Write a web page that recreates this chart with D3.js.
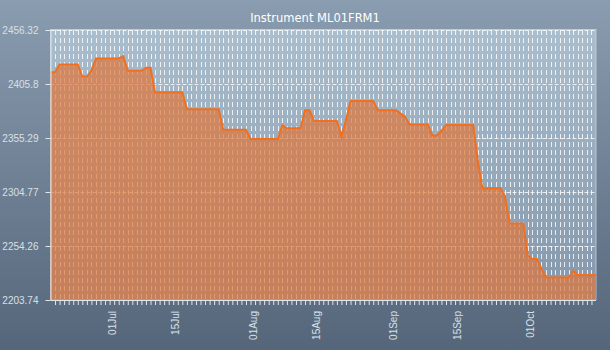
<!DOCTYPE html>
<html>
<head>
<meta charset="utf-8">
<script src="https://cdn.jsdelivr.net/npm/d3@7"></script>
<style>
  html, body { margin: 0; padding: 0; background: #6f8296; }
  svg { display: block; }
</style>
</head>
<body>
<svg id="chart" width="610" height="350"></svg>
<script>
// ---- data ----
const title = "Instrument ML01FRM1";
const dates = [
  "2009-06-17","2009-06-18","2009-06-19","2009-06-23","2009-06-24","2009-06-25","2009-06-26","2009-06-27",
  "2009-07-02","2009-07-03","2009-07-04","2009-07-07","2009-07-08","2009-07-09","2009-07-10","2009-07-16",
  "2009-07-17","2009-07-24","2009-07-25","2009-07-30","2009-07-31","2009-08-06","2009-08-07","2009-08-08",
  "2009-08-11","2009-08-12","2009-08-13","2009-08-14","2009-08-19","2009-08-20","2009-08-21","2009-08-22",
  "2009-08-27","2009-08-28","2009-09-01","2009-09-02","2009-09-03","2009-09-04","2009-09-08","2009-09-09",
  "2009-09-10","2009-09-11","2009-09-12","2009-09-18","2009-09-19","2009-09-20","2009-09-24","2009-09-25",
  "2009-09-26","2009-09-29","2009-09-30","2009-10-01","2009-10-02","2009-10-03","2009-10-04","2009-10-09",
  "2009-10-10","2009-10-11","2009-10-15"
];
const values = [
  2416.9, 2416.9, 2424.1, 2424.1, 2412.8, 2412.8, 2418.3, 2429.7,
  2429.7, 2431.9, 2418.1, 2418.1, 2420.9, 2420.9, 2398.1, 2398.1,
  2382.2, 2382.2, 2363.1, 2363.1, 2354.4, 2354.4, 2367.1, 2364.3,
  2364.3, 2381.2, 2381.2, 2371.2, 2371.2, 2356.8, 2372.0, 2389.9,
  2389.9, 2381.2, 2381.2, 2378.1, 2374.9, 2368.0, 2368.0, 2357.7,
  2357.7, 2362.0, 2367.4, 2367.4, 2334.0, 2308.2, 2308.2, 2300.0,
  2275.4, 2275.4, 2245.0, 2242.0, 2242.0, 2233.0, 2224.7, 2224.7,
  2231.0, 2227.2, 2227.2
];
const yTickValues = [2203.74, 2254.256, 2304.772, 2355.288, 2405.804, 2456.32];
const yTickLabels = ["2203.74", "2254.26", "2304.77", "2355.29", "2405.8", "2456.32"];
const xLabelDates = ["2009-07-01","2009-07-15","2009-08-01","2009-08-15","2009-09-01","2009-09-15","2009-10-01"];
const xTickLabels = ["01Jul","15Jul","01Aug","15Aug","01Sep","15Sep","01Oct"];
const xDomain = ["2009-06-17", "2009-10-15"];

// ---- layout ----
const W = 610, H = 350;
const mLeft = 50.5, mRight = 596, mTop = 30, mBottom = 300;
const parse = d3.timeParse("%Y-%m-%d");
const data = dates.map((d, i) => ({ date: parse(d), value: values[i] }));

const x = d3.scaleTime().domain(xDomain.map(parse)).range([mLeft, mRight]);
const y = d3.scaleLinear().domain([yTickValues[0], yTickValues[yTickValues.length - 1]]).range([mBottom, mTop]);

const svg = d3.select("#chart");
const defs = svg.append("defs");
const bgGrad = defs.append("linearGradient").attr("id", "bg").attr("x1", 0).attr("y1", 0).attr("x2", 0).attr("y2", 1);
bgGrad.append("stop").attr("offset", "0%").attr("stop-color", "#8a9caf");
bgGrad.append("stop").attr("offset", "100%").attr("stop-color", "#55667a");
const plotGrad = defs.append("linearGradient").attr("id", "plotbg").attr("x1", 0).attr("y1", 0).attr("x2", 0).attr("y2", 1);
plotGrad.append("stop").attr("offset", "0%").attr("stop-color", "#abbecd");
plotGrad.append("stop").attr("offset", "100%").attr("stop-color", "#8497ab");

svg.append("rect").attr("width", W).attr("height", H).attr("fill", "url(#bg)");
svg.append("rect").attr("x", mLeft).attr("y", mTop - 0.5).attr("width", mRight - mLeft).attr("height", mBottom - mTop)
  .attr("fill", "url(#plotbg)").attr("stroke", "rgba(200,212,222,0.8)").attr("stroke-width", 1);

// title
svg.append("text").attr("x", 315).attr("y", 22).attr("text-anchor", "middle")
  .attr("font-family", "DejaVu Sans").attr("font-size", "11.5px").attr("fill", "#ffffff").text(title);

// day ticks
const dayTicks = d3.timeDay.range(d3.timeDay.offset(x.domain()[0], 1), x.domain()[1]);

// grid
const grid = svg.append("g");
grid.selectAll("line.v").data(dayTicks).join("line").attr("class", "v")
  .attr("x1", d => Math.round(x(d)) + 0.5).attr("x2", d => Math.round(x(d)) + 0.5)
  .attr("y1", mTop).attr("y2", mBottom)
  .attr("stroke", "rgba(255,255,255,0.8)").attr("stroke-dasharray", "5,3");
grid.selectAll("line.h").data(yTickValues.slice(1)).join("line").attr("class", "h")
  .attr("x1", mLeft).attr("x2", mRight)
  .attr("y1", d => Math.round(y(d)) + 0.5).attr("y2", d => Math.round(y(d)) + 0.5)
  .attr("stroke", "rgba(255,255,255,0.8)").attr("stroke-dasharray", "4,2");

// area + line
const area = d3.area().x(d => x(d.date)).y0(mBottom).y1(d => y(d.value));
const line = d3.line().x(d => x(d.date)).y(d => y(d.value));
svg.append("path").datum(data).attr("d", area).attr("fill", "#e0763a").attr("fill-opacity", 0.7);
svg.append("path").datum(data).attr("d", line).attr("fill", "none").attr("stroke", "#f07020").attr("stroke-width", 2);

// axes
const axisColor = "#dfe6ec";
const xAxis = svg.append("g").attr("transform", `translate(0,${mBottom})`)
  .call(d3.axisBottom(x).tickValues(dayTicks).tickSize(5).tickFormat(""));
xAxis.select(".domain").attr("stroke", axisColor).attr("d", `M${mLeft},0.5H${mRight}`);
xAxis.selectAll(".tick line").attr("stroke", axisColor);

svg.append("g").selectAll("text").data(xLabelDates).join("text")
  .attr("transform", (d, i) => `translate(${x(parse(d)) + 1.5},311) rotate(-90)`)
  .attr("text-anchor", "end")
  .attr("font-family", "Liberation Sans").attr("font-size", "10px").attr("fill", "#d8e0e7")
  .text((d, i) => xTickLabels[i]);

const yAxis = svg.append("g").attr("transform", `translate(${mLeft},0)`)
  .call(d3.axisLeft(y).tickValues(yTickValues).tickSize(5).tickPadding(7).tickFormat((d, i) => yTickLabels[i]));
yAxis.select(".domain").attr("stroke", axisColor).attr("d", `M0.5,${mTop}V${mBottom}`);
yAxis.selectAll(".tick line").attr("stroke", axisColor);
yAxis.selectAll(".tick text").attr("font-family", "Liberation Sans").attr("font-size", "10px").attr("fill", "#d8e0e7");
</script>
</body>
</html>
